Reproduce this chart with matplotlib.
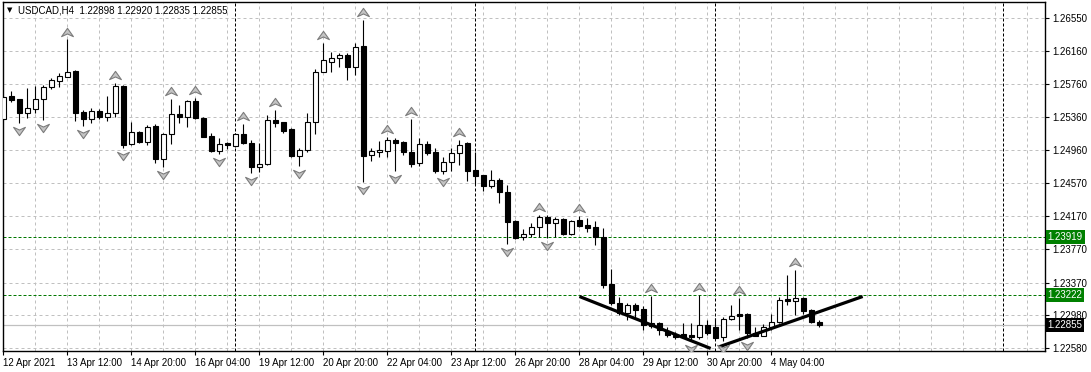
import matplotlib
matplotlib.use('Agg')
from matplotlib import pyplot as plt
from matplotlib.path import Path
from matplotlib import transforms

# USDCAD H4 bars, 12 Apr 2021 04:00 .. 5 May 2021 04:00
opens = [1.25335, 1.25615, 1.25575, 1.25407, 1.25462, 1.25575, 1.25727, 1.25799, 1.25847, 1.25919,
         1.25426, 1.25335, 1.25435, 1.25366, 1.25407, 1.25735, 1.25034, 1.25178, 1.25065, 1.25254,
         1.24854, 1.25154, 1.25395, 1.25366, 1.25555, 1.25354, 1.25134, 1.24957, 1.25046, 1.25017,
         1.25154, 1.25046, 1.24765, 1.24794, 1.25326, 1.25299, 1.25215, 1.24897, 1.24966, 1.25299,
         1.25907, 1.26028, 1.26076, 1.26108, 1.25968, 1.26217, 1.24905, 1.24947, 1.24957, 1.25086,
         1.25058, 1.24945, 1.24805, 1.25038, 1.24945, 1.24716, 1.24818, 1.24933, 1.25046, 1.24725,
         1.24665, 1.24536, 1.24605, 1.24464, 1.24111, 1.23915, 1.23951, 1.24036, 1.24163, 1.24084,
         1.24135, 1.23951, 1.24123, 1.24063, 1.24036, 1.23915, 1.23350, 1.23121, 1.23008, 1.23101,
         1.23049, 1.22848, 1.22888, 1.22792, 1.22740, 1.22752, 1.22740, 1.22712, 1.22860, 1.22840,
         1.22712, 1.22929, 1.22989, 1.22989, 1.22760, 1.22728, 1.22833, 1.22893, 1.23173, 1.23153,
         1.23181, 1.23041, 1.22898]
highs = [1.25615, 1.25675, 1.25579, 1.25708, 1.25735, 1.25747, 1.25828, 1.25888, 1.26295, 1.25928,
         1.25447, 1.25467, 1.25455, 1.25615, 1.25768, 1.25747, 1.25306, 1.25194, 1.25266, 1.25275,
         1.25166, 1.25579, 1.25507, 1.25567, 1.25587, 1.25359, 1.25166, 1.25106, 1.25065, 1.25166,
         1.25278, 1.25086, 1.25046, 1.25387, 1.25447, 1.25302, 1.25234, 1.24986, 1.25407, 1.25936,
         1.26249, 1.26148, 1.26129, 1.26129, 1.26249, 1.26529, 1.24993, 1.25074, 1.25125, 1.25106,
         1.25074, 1.25338, 1.25113, 1.25074, 1.24986, 1.24885, 1.24986, 1.25086, 1.25065, 1.24945,
         1.24670, 1.24725, 1.24632, 1.24544, 1.24123, 1.24012, 1.24091, 1.24184, 1.24178, 1.24163,
         1.24151, 1.24123, 1.24172, 1.24144, 1.24111, 1.24024, 1.23530, 1.23194, 1.23121, 1.23121,
         1.23089, 1.23209, 1.22900, 1.22833, 1.22772, 1.22888, 1.22888, 1.23221, 1.22920, 1.22941,
         1.22960, 1.23101, 1.23189, 1.23001, 1.22833, 1.22872, 1.22989, 1.23201, 1.23462, 1.23522,
         1.23194, 1.23049, 1.22920]
lows = [1.25326, 1.25547, 1.25294, 1.25347, 1.25414, 1.25326, 1.25696, 1.25720, 1.25840, 1.25318,
        1.25254, 1.25287, 1.25335, 1.25318, 1.25359, 1.24986, 1.25026, 1.25046, 1.25026, 1.24813,
        1.24757, 1.25034, 1.25294, 1.25246, 1.25342, 1.25122, 1.24938, 1.24923, 1.24978, 1.25005,
        1.25038, 1.24692, 1.24704, 1.24785, 1.25246, 1.25166, 1.24885, 1.24773, 1.24945, 1.25154,
        1.25903, 1.25907, 1.25968, 1.25808, 1.25868, 1.24584, 1.24837, 1.24885, 1.24885, 1.24716,
        1.24905, 1.24757, 1.24777, 1.24905, 1.24692, 1.24677, 1.24716, 1.24785, 1.24593, 1.24553,
        1.24476, 1.24505, 1.24324, 1.23831, 1.23891, 1.23883, 1.23915, 1.23915, 1.23907, 1.23922,
        1.23943, 1.23943, 1.24043, 1.23983, 1.23817, 1.23302, 1.23101, 1.22981, 1.22920, 1.22941,
        1.22800, 1.22821, 1.22740, 1.22720, 1.22688, 1.22700, 1.22671, 1.22695, 1.22740, 1.22686,
        1.22668, 1.22920, 1.22800, 1.22704, 1.22724, 1.22722, 1.22800, 1.22881, 1.23101, 1.22981,
        1.22993, 1.22881, 1.22835]
closes = [1.25607, 1.25567, 1.25407, 1.25467, 1.25575, 1.25727, 1.25808, 1.25856, 1.25907, 1.25414,
          1.25335, 1.25435, 1.25366, 1.25407, 1.25735, 1.25026, 1.25178, 1.25065, 1.25246, 1.24854,
          1.25154, 1.25395, 1.25366, 1.25555, 1.25347, 1.25125, 1.24957, 1.25034, 1.25029, 1.25154,
          1.25053, 1.24765, 1.24794, 1.25326, 1.25294, 1.25198, 1.24893, 1.24966, 1.25299, 1.25907,
          1.26048, 1.26076, 1.26108, 1.25968, 1.26208, 1.24897, 1.24953, 1.24960, 1.25086, 1.25053,
          1.24938, 1.24797, 1.25038, 1.24933, 1.24716, 1.24818, 1.24933, 1.25026, 1.24716, 1.24656,
          1.24536, 1.24605, 1.24464, 1.24103, 1.23910, 1.23951, 1.24036, 1.24156, 1.24084, 1.24135,
          1.23955, 1.24111, 1.24055, 1.24024, 1.23915, 1.23347, 1.23129, 1.23001, 1.23101, 1.23041,
          1.22860, 1.22888, 1.22800, 1.22740, 1.22712, 1.22720, 1.22712, 1.22860, 1.22768, 1.22700,
          1.22929, 1.22972, 1.22972, 1.22760, 1.22733, 1.22833, 1.22893, 1.23161, 1.23153, 1.23181,
          1.23032, 1.22900, 1.22855]

# fractal bars
fractal_up = [8, 14, 21, 24, 30, 34, 40, 45, 48, 51, 57, 67, 72, 81, 87, 92, 99]
fractal_down = [2, 5, 10, 15, 20, 27, 31, 37, 45, 49, 55, 63, 68, 86, 90, 93]

# bottom axis labels, one every 8 bars
date_labels = ['12 Apr 2021', '13 Apr 12:00', '14 Apr 20:00', '16 Apr 04:00', '19 Apr 12:00',
               '20 Apr 20:00', '22 Apr 04:00', '23 Apr 12:00', '26 Apr 20:00', '28 Apr 04:00',
               '29 Apr 12:00', '30 Apr 20:00', '4 May 04:00']
price_ticks = [1.26550, 1.26160, 1.25760, 1.25360, 1.24960, 1.24570, 1.24170, 1.23770,
               1.23370, 1.22980, 1.22580]

# week separators (bar index)
separators = [29, 59, 89, 125]

# horizontal levels
level_lines = [1.23919, 1.23222]
bid = 1.22855

# trend lines (bar index, price)
trend1_x = [72.0, 88.4]
trend1_y = [1.23203, 1.22578]
trend2_x = [89.4, 107.4]
trend2_y = [1.22596, 1.23203]

W, H = 1091, 372
fig = plt.figure(figsize=(W / 100, H / 100), dpi=100)
ax = fig.add_axes([2.5 / W, (H - 350.7) / H, (1045 - 2.5) / W, (350.7 - 2) / H])
ax.set_xlim(-0.125, 130.19)
ax.set_ylim(1.22551, 1.26746)

font = 'Liberation Sans'
fs = 7

# grid
for k in range(4, 131, 4):
    ax.axvline(k, color='#c0c0c0', lw=0.72, ls=(0, (3, 3)), zorder=0)
for p in price_ticks:
    ax.axhline(p, color='#c0c0c0', lw=0.72, ls=(0, (3, 3)), zorder=0)

for s in separators:
    ax.axvline(s, color='black', lw=0.72, ls=(0, (3, 2)), zorder=1)
for lv in level_lines:
    ax.axhline(lv, color='#007800', lw=0.72, ls=(0, (3, 2)), zorder=1)
ax.axhline(bid, color='#c0c0c0', lw=0.9, zorder=1)

# candles
n = len(opens)
xs = list(range(n))
ax.vlines(xs, lows, highs, color='black', lw=0.8, zorder=2)
for i in xs:
    o, c = opens[i], closes[i]
    bottom = min(o, c)
    height = max(abs(c - o), 0.00002)
    fill = 'white' if c > o else 'black'
    ax.bar(i, height, bottom=bottom, width=0.62, color=fill, edgecolor='black',
           linewidth=0.8, zorder=3)

# trend lines
ax.plot(trend1_x, trend1_y, color='black', lw=2.3, solid_capstyle='butt', zorder=4)
ax.plot(trend2_x, trend2_y, color='black', lw=2.3, solid_capstyle='butt', zorder=4)

# fractals
up_arrow = Path([(0, 0.7), (1, -0.7), (0, -0.25), (-1, -0.7), (0, 0.7)],
                [Path.MOVETO, Path.LINETO, Path.LINETO, Path.LINETO, Path.CLOSEPOLY])
down_arrow = Path([(0, -0.7), (1, 0.7), (0, 0.25), (-1, 0.7), (0, -0.7)],
                  [Path.MOVETO, Path.LINETO, Path.LINETO, Path.LINETO, Path.CLOSEPOLY])
off = 0.00096
ax.plot(fractal_up, [highs[i] + off for i in fractal_up], ls='none', marker=up_arrow,
        ms=8.5, mfc='#c4c4c4', mec='#7c7c7c', mew=0.8, zorder=5)
ax.plot(fractal_down, [lows[i] - off for i in fractal_down], ls='none', marker=down_arrow,
        ms=8.5, mfc='#c4c4c4', mec='#7c7c7c', mew=0.8, zorder=5)

# axes look
for sp in ax.spines.values():
    sp.set_color('black')
    sp.set_linewidth(1)

ax.set_xticks(range(0, 8 * len(date_labels), 8))
ax.set_xticklabels(date_labels, fontsize=fs, family=font, ha='left')
ax.tick_params(axis='x', length=3, width=0.8, pad=2)

ax.yaxis.tick_right()
ax.set_yticks(price_ticks)
ax.set_yticklabels(['%.5f' % p for p in price_ticks], fontsize=fs, family=font)
ax.tick_params(axis='y', length=3, width=0.8, pad=2)

# highlighted price labels
tr = transforms.blended_transform_factory(ax.transAxes, ax.transData)
for lv in level_lines:
    ax.text(1.0025, lv, '%.5f' % lv, transform=tr, va='center', ha='left', color='white',
            fontsize=fs, family=font,
            bbox=dict(boxstyle='square,pad=0.2', fc='#008000', ec='none'))
ax.text(1.0025, bid, '%.5f' % bid, transform=tr, va='center', ha='left', color='white',
        fontsize=fs, family=font,
        bbox=dict(boxstyle='square,pad=0.2', fc='black', ec='none'))

# title
fig.text(7 / W, 1 - 10.5 / H, '\u25bc', fontsize=5, family='DejaVu Sans', va='center')
fig.text(18 / W, 1 - 10.5 / H,
         'USDCAD,H4  %.5f %.5f %.5f %.5f' % (opens[-1], highs[-1], lows[-1], closes[-1]),
         fontsize=fs, family=font, va='center')

fig.savefig('out.png', dpi=100)
